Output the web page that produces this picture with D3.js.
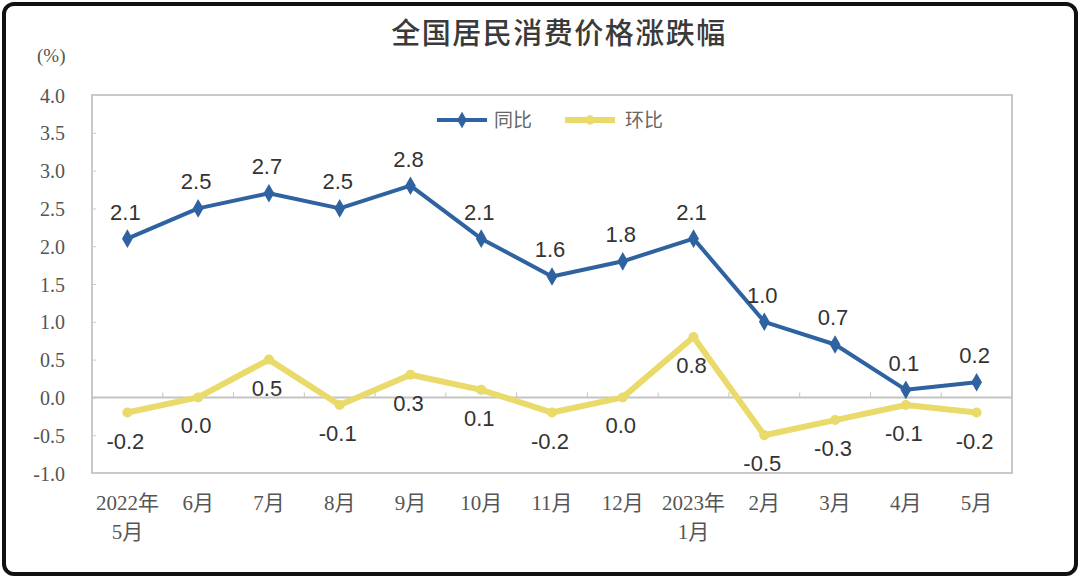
<!DOCTYPE html>
<html>
<head>
<meta charset="utf-8">
<script src="https://cdn.jsdelivr.net/npm/d3@7"></script>
<style>
  body { margin: 0; background: #fff; }
  svg text { font-family: "Liberation Serif", "Noto Sans CJK SC", serif; }
</style>
</head>
<body>
<div id="chart"></div>
<script>
// DATA
var months = ["2022年\n5月", "6月", "7月", "8月", "9月", "10月", "11月", "12月", "2023年\n1月", "2月", "3月", "4月", "5月"];
var yoy = [2.1, 2.5, 2.7, 2.5, 2.8, 2.1, 1.6, 1.8, 2.1, 1.0, 0.7, 0.1, 0.2];   // 同比
var mom = [-0.2, 0.0, 0.5, -0.1, 0.3, 0.1, -0.2, 0.0, 0.8, -0.5, -0.3, -0.1, -0.2]; // 环比
var yTicks = [4.0, 3.5, 3.0, 2.5, 2.0, 1.5, 1.0, 0.5, 0.0, -0.5, -1.0];

var W = 1080, H = 578;
var margin = {top: 95, right: 68, bottom: 105, left: 92};
var width = W - margin.left - margin.right,
    height = H - margin.top - margin.bottom;

var blue = "#2f62a0", yellow = "#e9da6a";
var fmt = function(d) { return d3.format(".1f")(d).replace("−", "-"); };

var svg = d3.select("#chart").append("svg")
    .attr("width", W).attr("height", H);

// outer frame
svg.append("rect")
    .attr("x", 4).attr("y", 4).attr("width", W - 8).attr("height", H - 8)
    .attr("rx", 10).attr("fill", "#fff")
    .attr("stroke", "#111").attr("stroke-width", 4);

// title
svg.append("text")
    .attr("x", 559).attr("y", 44)
    .attr("text-anchor", "middle")
    .style("font-family", "'Noto Sans CJK SC', sans-serif")
    .style("font-size", "29px").style("letter-spacing", "1.5px")
    .style("font-weight", 500)
    .attr("fill", "#3a3a3a")
    .text("全国居民消费价格涨跌幅");

// unit
svg.append("text")
    .attr("x", 37).attr("y", 62)
    .style("font-size", "19px").attr("fill", "#555")
    .text("(%)");

var g = svg.append("g")
    .attr("transform", "translate(" + margin.left + "," + margin.top + ")");

var x = d3.scaleBand().domain(months).range([0, width]);
var y = d3.scaleLinear().domain([-1, 4]).range([height, 0]);
var cx = function(d, i) { return x(months[i]) + x.bandwidth() / 2; };

// plot box
g.append("rect")
    .attr("x", 0).attr("y", 0).attr("width", width).attr("height", height)
    .attr("fill", "none").attr("stroke", "#c8c8c8").attr("stroke-width", 2);

// y axis labels
var yAxis = g.append("g")
    .call(d3.axisLeft(y).tickValues(yTicks).tickSize(-4).tickPadding(27)
        .tickFormat(fmt));
yAxis.select(".domain").remove();
yAxis.selectAll("line").attr("stroke", "#ccc");
yAxis.selectAll("text")
    .style("font-size", "20px").style("font-family", "'Liberation Serif', serif")
    .attr("fill", "#555").attr("dy", "0.35em");

// zero line with ticks at category boundaries
g.append("line")
    .attr("x1", 0).attr("x2", width).attr("y1", y(0)).attr("y2", y(0))
    .attr("stroke", "#c4c4c4").attr("stroke-width", 2);
g.selectAll(".ztick")
    .data(months.slice(1))
    .enter().append("line")
    .attr("x1", function(d) { return x(d); }).attr("x2", function(d) { return x(d); })
    .attr("y1", y(0)).attr("y2", y(0) - 5)
    .attr("stroke", "#c4c4c4").attr("stroke-width", 1);

// x labels
var xl = g.append("g").selectAll("text")
    .data(months).enter().append("text")
    .attr("text-anchor", "middle")
    .attr("fill", "#555")
    .style("font-size", "21px");
xl.each(function(d, i) {
    var lines = d.split("\n");
    var t = d3.select(this);
    lines.forEach(function(s, k) {
        t.append("tspan")
            .attr("x", cx(d, i))
            .attr("y", height + 37 + k * 29)
            .text(s);
    });
});

// lines
var line = d3.line()
    .x(function(d, i) { return cx(d, i); })
    .y(function(d) { return y(d); });

g.append("path").datum(mom)
    .attr("d", line).attr("fill", "none")
    .attr("stroke", yellow).attr("stroke-width", 6)
    .attr("stroke-linejoin", "round");
g.selectAll(".momPt").data(mom).enter().append("circle")
    .attr("cx", cx).attr("cy", function(d) { return y(d); })
    .attr("r", 5).attr("fill", yellow);

g.append("path").datum(yoy)
    .attr("d", line).attr("fill", "none")
    .attr("stroke", blue).attr("stroke-width", 4)
    .attr("stroke-linejoin", "round");
g.selectAll(".yoyPt").data(yoy).enter().append("path")
    .attr("d", d3.symbol().type(d3.symbolDiamond).size(100))
    .attr("transform", function(d, i) { return "translate(" + cx(d, i) + "," + y(d) + ")"; })
    .attr("fill", blue);

// data labels
g.selectAll(".yoyLbl").data(yoy).enter().append("text")
    .attr("x", function(d, i) { return cx(d, i) - 2; })
    .attr("y", function(d) { return y(d) - 19; })
    .attr("text-anchor", "middle")
    .style("font-family", "'Liberation Sans', Arial, sans-serif")
    .style("font-size", "22px").attr("fill", "#333")
    .text(fmt);

g.selectAll(".momLbl").data(mom).enter().append("text")
    .attr("x", function(d, i) { return cx(d, i) - 2; })
    .attr("y", function(d) { return y(d) + 36; })
    .attr("text-anchor", "middle")
    .style("font-family", "'Liberation Sans', Arial, sans-serif")
    .style("font-size", "22px").attr("fill", "#333")
    .text(fmt);

// legend
var legend = [
    {name: "同比", color: blue, w: 4, x: 437},
    {name: "环比", color: yellow, w: 6, x: 565}
];
var lg = svg.append("g").selectAll("g").data(legend).enter().append("g")
    .attr("transform", function(d) { return "translate(" + d.x + ",120)"; });
lg.append("line")
    .attr("x1", 0).attr("x2", 50).attr("y1", 0).attr("y2", 0)
    .attr("stroke", function(d) { return d.color; })
    .attr("stroke-width", function(d) { return d.w; });
lg.append("path")
    .attr("d", function(d, i) { return d3.symbol().type(i === 0 ? d3.symbolDiamond : d3.symbolCircle).size(i === 0 ? 80 : 70)(); })
    .attr("transform", "translate(25,0)")
    .attr("fill", function(d) { return d.color; });
lg.append("text")
    .attr("x", function(d, i) { return i === 0 ? 57 : 60; }).attr("y", 7)
    .style("font-family", "'Noto Sans CJK SC', sans-serif")
    .style("font-size", "19px").attr("fill", "#666")
    .text(function(d) { return d.name; });
</script>
</body>
</html>
